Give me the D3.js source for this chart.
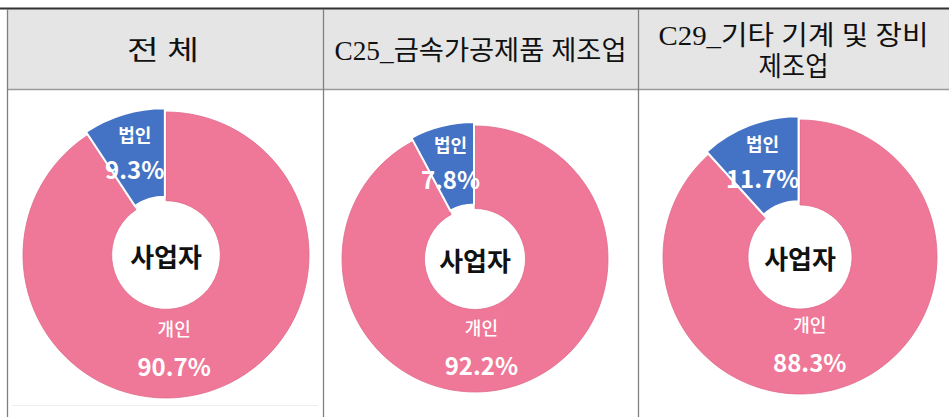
<!DOCTYPE html>
<html><head><meta charset="utf-8">
<script src="https://cdn.jsdelivr.net/npm/d3@7"></script>
<style>html,body{margin:0;padding:0;background:#fff;}svg{display:block;}</style>
</head><body>
<svg id="chart" width="949" height="417"></svg>
<script>
// ---- data ----
const headerLines = [["전 체"], ["C25_금속가공제품 제조업"], ["C29_기타 기계 및 장비", "제조업"]];
const categories = ["개인", "법인"];
const indivShare = [90.7, 92.2, 88.3];
const corpShare = [9.3, 7.8, 11.7];
const centerLabel = "사업자";

// ---- layout ----
const W = 949, H = 417;
const colX = [7, 323, 638, 949];
const headerTop = 9, headerBottom = 89;
const pieCx = [166, 475, 800], pieCy = [255, 259, 257], pieR = [143, 133, 137];
const headerWidths = [[72], [292], [270, 70]];
const colors = { "개인": "#ef7797", "법인": "#4472c4" };

const svg = d3.select("#chart");

// header background
svg.append("rect").attr("x", colX[0]).attr("y", headerTop).attr("width", W - colX[0]).attr("height", headerBottom - headerTop).attr("fill", "#e5e5e5");
// top thick rule
svg.append("line").attr("x1", 0).attr("x2", W).attr("y1", 8.5).attr("y2", 8.5).attr("stroke", "#333").attr("stroke-width", 2);
// header bottom rule
svg.append("line").attr("x1", colX[0]).attr("x2", W).attr("y1", headerBottom + 0.5).attr("y2", headerBottom + 0.5).attr("stroke", "#9a9a9a").attr("stroke-width", 1.5);
// vertical rules
[colX[0], colX[1], colX[2]].forEach(x => {
  svg.append("line").attr("x1", x + 0.5).attr("x2", x + 0.5).attr("y1", headerTop).attr("y2", H).attr("stroke", "#808080").attr("stroke-width", 1.3);
});
// faint chart-area frame line (panel 1)
svg.append("line").attr("x1", 12).attr("x2", 318).attr("y1", 405.5).attr("y2", 405.5).attr("stroke", "#eeeeee").attr("stroke-width", 1);

// header texts
headerLines.forEach((lines, i) => {
  const cx = (colX[i] + colX[i + 1]) / 2 + (i === 0 ? -2 : 0);
  const midY = (headerTop + headerBottom) / 2 + 2;
  const lh = 31;
  lines.forEach((t, j) => {
    const y = midY + (j - (lines.length - 1) / 2) * lh;
    svg.append("text")
      .attr("x", cx).attr("y", y)
      .attr("text-anchor", "middle").attr("dominant-baseline", "central")
      .attr("font-family", "'Liberation Serif', 'Noto Sans CJK KR', serif")
      .attr("font-size", 27).attr("fill", "#111")
      .attr("textLength", headerWidths[i][j]).attr("lengthAdjust", "spacingAndGlyphs")
      .text(t);
  });
});

// pies
const pie = d3.pie().sort(null).value(d => d.value).startAngle(0).endAngle(2 * Math.PI);
indivShare.forEach((v, i) => {
  const data = [{ cat: categories[0], value: indivShare[i] }, { cat: categories[1], value: corpShare[i] }];
  const arcs = pie(data);
  const r = pieR[i], rin = r * 0.38;
  const arc = d3.arc().innerRadius(rin).outerRadius(r);
  const g = svg.append("g").attr("transform", `translate(${pieCx[i]},${pieCy[i]})`);
  arcs.forEach(a => {
    const mid = (a.startAngle + a.endAngle) / 2;
    const off = a.data.cat === "법인" ? 4 : 0;
    g.append("path")
      .attr("d", arc(a))
      .attr("transform", `translate(${Math.sin(mid) * off},${-Math.cos(mid) * off})`)
      .attr("fill", colors[a.data.cat])
      .attr("stroke", a.data.cat === "법인" ? "#fff" : "#e06a8a")
      .attr("stroke-width", a.data.cat === "법인" ? 2 : 0.8);
  });
  // labels
  arcs.forEach(a => {
    const mid = (a.startAngle + a.endAngle) / 2;
    const isCorp = a.data.cat === "법인";
    const lr = isCorp ? r * 0.76 : r * 0.66;
    const kx = isCorp ? 1 : 0.3;
    const lx = Math.sin(mid) * lr * kx, ly = -Math.cos(mid) * lr;
    g.append("text").attr("x", lx).attr("y", ly - 17)
      .attr("text-anchor", "middle").attr("dominant-baseline", "central")
      .attr("font-family", "'Noto Sans CJK KR', sans-serif").attr("font-weight", isCorp ? 700 : 500)
      .attr("font-size", 18).attr("fill", "#fff").text(a.data.cat);
    g.append("text").attr("x", lx).attr("y", ly + (isCorp ? 18 : 20))
      .attr("text-anchor", "middle").attr("dominant-baseline", "central")
      .attr("font-family", "'Noto Sans CJK KR', sans-serif").attr("font-weight", 700)
      .attr("font-size", 24).attr("fill", "#fff").text(a.data.value.toFixed(1) + "%");
  });
  g.append("text").attr("x", 0).attr("y", 0)
    .attr("text-anchor", "middle").attr("dominant-baseline", "central")
    .attr("font-family", "'Noto Sans CJK KR', sans-serif").attr("font-weight", 700)
    .attr("font-size", 26).attr("fill", "#111").text(centerLabel);
});
</script>
</body></html>
